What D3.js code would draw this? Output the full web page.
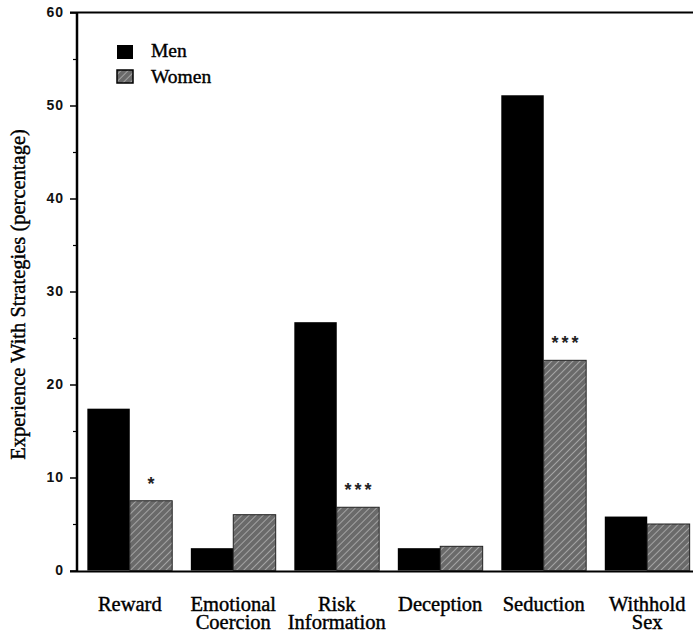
<!DOCTYPE html>
<html><head><meta charset="utf-8">
<script src="https://cdn.jsdelivr.net/npm/d3@7"></script>
<style>
body{margin:0;background:#fff}svg{display:block}
</style>
</head><body>
<script>
const categories = [["Reward"],["Emotional","Coercion"],["Risk","Information"],["Deception"],["Seduction"],["Withhold","Sex"]];
const men = [17.4, 2.4, 26.7, 2.4, 51.1, 5.8];
const women = [7.5, 6.0, 6.8, 2.6, 22.6, 5.0];
const stars = ["*", "", "***", "", "***", ""];
const series = ["Men", "Women"];
const yTicks = [0,10,20,30,40,50,60];
const yMinor = [5,15,25,35,45,55];

const serifFont = '"Liberation Serif", "Times New Roman", serif';
const sansFont = '"Liberation Sans", Arial, Helvetica, sans-serif';

const W = 693, H = 635;
const svg = d3.select("body").append("svg").attr("width", W).attr("height", H);
const defs = svg.append("defs");
const pat = defs.append("pattern").attr("id","hatch").attr("patternUnits","userSpaceOnUse")
  .attr("width",5).attr("height",5).attr("patternTransform","rotate(45)");
pat.append("rect").attr("width",5).attr("height",5).attr("fill","#6a6a6a");
pat.append("line").attr("x1",0).attr("y1",0).attr("x2",0).attr("y2",5).attr("stroke","#c4c4c4").attr("stroke-width",1.3);

const x0 = 77, yBase = 570.5, yTop = 12.5;
const y = d3.scaleLinear().domain([0,60]).range([yBase, yTop]);
const x = d3.scaleBand().domain(d3.range(categories.length)).range([x0, 700]).paddingInner(0.18).paddingOuter(0.1);
const xs = d3.scaleBand().domain(series).range([0, x.bandwidth()]);

function serif(sel, size){
  return sel.style("font-family", serifFont).style("font-size", size+"px")
    .attr("fill","#000").attr("stroke","#000").attr("stroke-width",0.4);
}

// frame lines
svg.append("line").attr("x1",70).attr("x2",W).attr("y1",yTop).attr("y2",yTop).attr("stroke","#000").attr("stroke-width",2);
svg.append("line").attr("x1",70).attr("x2",W).attr("y1",yBase+1).attr("y2",yBase+1).attr("stroke","#000").attr("stroke-width",2);

// y axis
const ax = svg.append("g").attr("transform",`translate(${x0},0)`)
  .call(d3.axisLeft(y).tickValues(yTicks).tickSize(7).tickPadding(6).tickFormat(d3.format("d")));
ax.select(".domain").attr("stroke-width",2.5).attr("d",`M0,${yTop}V${yBase+1}`);
ax.selectAll(".tick line").attr("stroke-width",1.5);
ax.selectAll(".tick text").style("font-family",sansFont).style("font-weight","bold").style("font-size","14px").attr("letter-spacing","1px").attr("fill","#111");
svg.append("g").attr("transform",`translate(${x0},0)`)
  .call(d3.axisLeft(y).tickValues(yMinor).tickSize(4).tickFormat(""))
  .call(g=>g.select(".domain").remove())
  .selectAll(".tick line").attr("stroke-width",1.2);

// y label
serif(svg.append("text").attr("transform",`translate(25,294.5) rotate(-90)`)
  .attr("text-anchor","middle"), 20.5).text("Experience With Strategies (percentage)");

// bars
const g = svg.append("g");
categories.forEach((c,i)=>{
  g.append("rect").attr("x",x(i)+xs("Men")).attr("width",xs.bandwidth()).attr("y",y(men[i])).attr("height",yBase-y(men[i])).attr("fill","#000");
  g.append("rect").attr("x",x(i)+xs("Women")).attr("width",xs.bandwidth()).attr("y",y(women[i])).attr("height",yBase-y(women[i]))
    .attr("fill","url(#hatch)").attr("stroke","#222").attr("stroke-width",1);
  if (stars[i]) {
    g.append("text").attr("x",x(i)+xs("Women")+xs.bandwidth()/2).attr("dx",1.5).attr("y",y(women[i])-11)
      .attr("text-anchor","middle").style("font-family",sansFont).style("font-weight","bold").style("font-size","18px")
      .attr("letter-spacing","3px").attr("fill","#222").text(stars[i]);
  }
  const t = serif(svg.append("text").attr("text-anchor","middle"), 20.5);
  c.forEach((line,k)=>{
    t.append("tspan").attr("x",x(i)+x.bandwidth()/2).attr("y",611+k*18).text(line);
  });
});

// legend
const leg = svg.append("g");
leg.append("rect").attr("x",117).attr("y",45).attr("width",16).attr("height",14).attr("fill","#000");
leg.append("rect").attr("x",117).attr("y",70).attr("width",16).attr("height",13).attr("fill","url(#hatch)").attr("stroke","#000").attr("stroke-width",1.5);
serif(leg.append("text").attr("x",151).attr("y",57), 19.5).text(series[0]);
serif(leg.append("text").attr("x",151).attr("y",83), 19.5).text(series[1]);
</script>
</body></html>
